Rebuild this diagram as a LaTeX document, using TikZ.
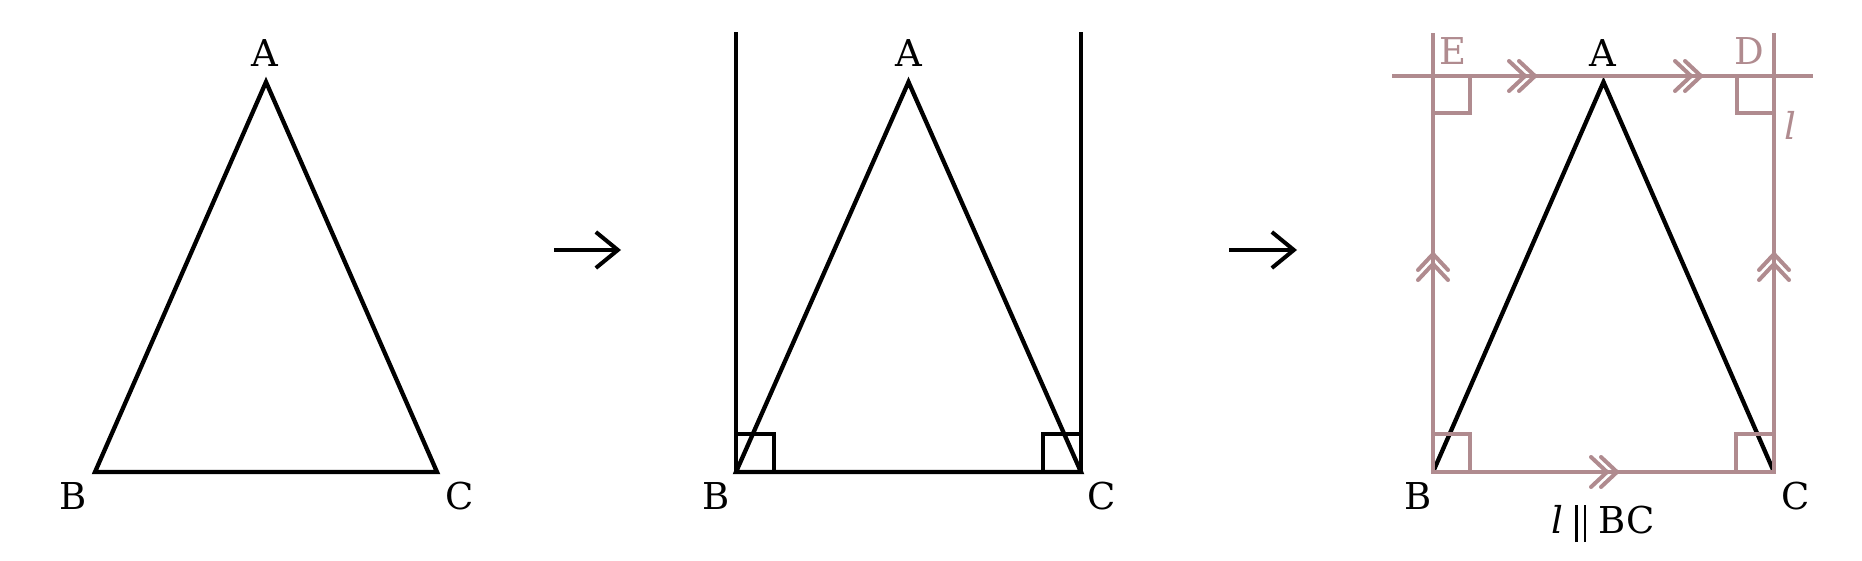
\documentclass[tikz,border=0pt]{standalone}
\usepackage{fontspec}
\setmainfont{DejaVu Serif}
\usetikzlibrary{arrows.meta}
\definecolor{rose}{RGB}{176,139,143}
\newcommand{\parbars}{\rule[-9pt]{2.6pt}{37pt}\hspace{6pt}\rule[-9pt]{2.6pt}{37pt}}
\begin{document}
\begin{tikzpicture}[x=1pt,y=-1pt,
  blk/.style={draw=black, line width=4.3pt},
  rs/.style={draw=rose, line width=4pt},
  lbl/.style={inner sep=0pt, anchor=base, font=\fontsize{37}{44}\selectfont},
  rlbl/.style={lbl, text=rose},
  stepper/.style={blk, line width=4pt, -{Straight Barb[length=22pt,width=36pt]}},
  dchev/.pic={
    \draw[rs, line cap=round] (-21,-15) -- (-5,0) -- (-21,15);
    \draw[rs, line cap=round] (-11,-15) -- (5,0) -- (-11,15);
  }]
\useasboundingbox (0,0) rectangle (1862,560);

% ---------- panel 1 ----------
\coordinate (A1) at (266,82);
\coordinate (B1) at (95,472);
\coordinate (C1) at (437,472);
\draw[blk, line join=miter] (A1) -- (B1) -- (C1) -- cycle;
\node[lbl] (lA1) at (265,66) {A};
\node[lbl] (lB1) at (73,509) {B};
\node[lbl] (lC1) at (460,509) {C};

% arrow 1
\coordinate (s1) at (554,250);
\coordinate (t1) at (621,250);
\draw[stepper] (s1) -- (t1);

% ---------- panel 2 ----------
\coordinate (A2) at (908.5,82);
\coordinate (B2) at (736,472);
\coordinate (C2) at (1081,472);
\coordinate (TB2) at (736,32);
\coordinate (TC2) at (1081,32);
\draw[blk] (TB2) -- (B2);
\draw[blk] (TC2) -- (C2);
\draw[blk] (B2) rectangle ++(38,-38);
\draw[blk] (C2) rectangle ++(-38,-38);
\draw[blk, line join=miter] (A2) -- (B2) -- (C2) -- cycle;
\node[lbl] (lA2) at (909,66) {A};
\node[lbl] (lB2) at (716,509) {B};
\node[lbl] (lC2) at (1102,509) {C};

% arrow 2
\coordinate (s2) at (1229,250);
\coordinate (t2) at (1297,250);
\draw[stepper] (s2) -- (t2);

% ---------- panel 3 ----------
\coordinate (A3) at (1603.5,82);
\coordinate (B3) at (1433,472);
\coordinate (C3) at (1774,472);
\coordinate (E) at (1433,76);
\coordinate (D) at (1774,76);
\coordinate (TB3) at (1433,33);
\coordinate (TC3) at (1774,33);
\coordinate (L0) at (1392,76);
\coordinate (L1) at (1813,76);
\draw[blk, line join=miter] (B3) -- (A3) -- (C3);
\draw[rs] (TB3) -- (B3);
\draw[rs] (TC3) -- (C3);
\draw[rs] (L0) -- (L1);
\draw[rs] (B3) -- (C3);
\draw[rs] (E) rectangle ++(37,37);
\draw[rs] (D) rectangle ++(-37,37);
\draw[rs] (B3) rectangle ++(37,-38);
\draw[rs] (C3) rectangle ++(-38,-38);
\pic at (1530,76) {dchev};
\pic at (1696,76) {dchev};
\pic at (1612,472) {dchev};
\pic[rotate=90] at (1433,259) {dchev};
\pic[rotate=90] at (1774,259) {dchev};
\node[lbl] (lA3) at (1603,66) {A};
\node[rlbl] (lE) at (1453,64) {E};
\node[rlbl] (lD) at (1749,64) {D};
\node[rlbl] (ll) at (1790,139) {\textit{l}};
\node[lbl] (lB3) at (1418,509) {B};
\node[lbl] (lC3) at (1796,509) {C};
\node[lbl] (par) at (1603,533) {\textit{l}\hspace{12pt}\parbars\hspace{12pt}BC};
\end{tikzpicture}
\end{document}
